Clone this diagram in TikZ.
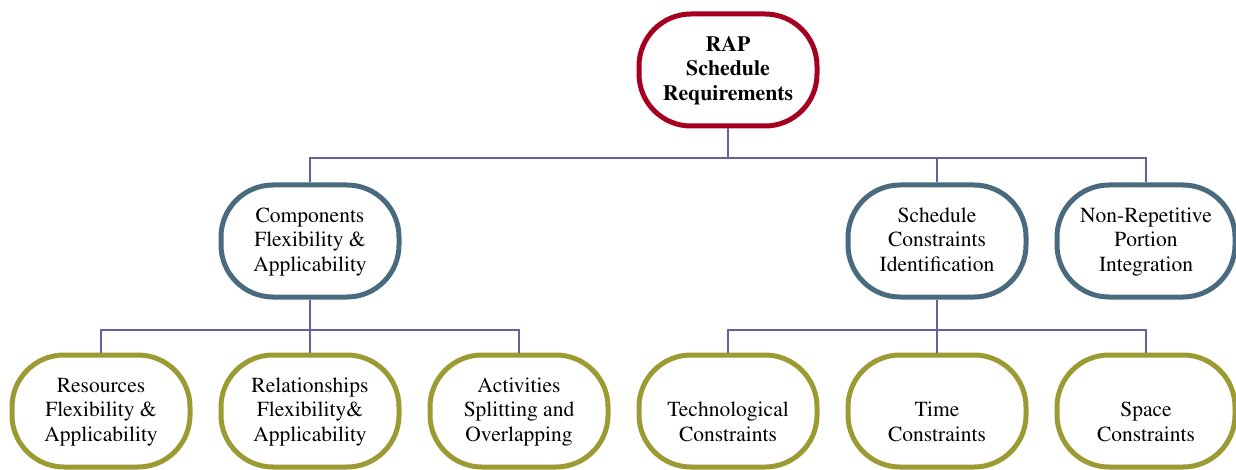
\documentclass[tikz,border=0pt]{standalone}
\usepackage[T1]{fontenc}
\usepackage{mathptmx}
\definecolor{rootred}{HTML}{A50021}
\definecolor{midblue}{HTML}{4A6A80}
\definecolor{leafolive}{HTML}{9C9A33}
\definecolor{linkpurple}{HTML}{6A5E9E}
% one text line of fixed height and depth
\newcommand{\boxline}[1]{\rule[-6.6pt]{0pt}{24.5pt}#1}
\begin{document}
\begin{tikzpicture}[x=1pt,y=-1pt,
  boxbase/.style={draw, line width=5pt, rounded corners=52pt, fill=white,
    minimum width=178pt, minimum height=112pt, inner sep=0pt,
    align=center, font=\fontsize{21.5}{24.5}\selectfont},
  rootbox/.style={boxbase, draw=rootred, font=\bfseries\fontsize{21.8}{24.5}\selectfont},
  midbox/.style={boxbase, draw=midblue},
  leafbox/.style={boxbase, draw=leafolive},
  link/.style={draw=linkpurple, line width=1.5pt}]
\useasboundingbox (0,0) rectangle (1236,470);

% root
\node[rootbox] (root) at (728,70) {\boxline{RAP}\\\boxline{Schedule}\\\boxline{Requirements}};

% second level
\node[midbox] (comp) at (310,241) {\boxline{Components}\\\boxline{Flexibility \&}\\\boxline{Applicability}};
\node[midbox] (cons) at (937,241) {\boxline{Schedule}\\\boxline{Constraints}\\\boxline{Identification}};
\node[midbox] (nonrep) at (1146,241) {\boxline{Non-Repetitive}\\\boxline{Portion}\\\boxline{Integration}};

% third level
\node[leafbox] (res) at (101,411) {\boxline{Resources}\\\boxline{Flexibility \&}\\\boxline{Applicability}};
\node[leafbox] (rel) at (310,411) {\boxline{Relationships}\\\boxline{Flexibility\&}\\\boxline{Applicability}};
\node[leafbox] (act) at (519,411) {\boxline{Activities}\\\boxline{Splitting and}\\\boxline{Overlapping}};
\node[leafbox] (tech) at (728,411) {\boxline{}\\\boxline{Technological}\\\boxline{Constraints}};
\node[leafbox] (time) at (937,411) {\boxline{}\\\boxline{Time}\\\boxline{Constraints}};
\node[leafbox] (space) at (1146,411) {\boxline{}\\\boxline{Space}\\\boxline{Constraints}};

% connectors
\coordinate (b1) at (728,158);
\coordinate (b2) at (310,330);
\coordinate (b3) at (937,330);

\draw[link] (root.south) -- (b1);
\draw[link] (b1) -| (comp.north);
\draw[link] (b1) -| (cons.north);
\draw[link] (b1) -| (nonrep.north);

\draw[link] (comp.south) -- (b2);
\draw[link] (b2) -| (res.north);
\draw[link] (b2) -| (rel.north);
\draw[link] (b2) -| (act.north);

\draw[link] (cons.south) -- (b3);
\draw[link] (b3) -| (tech.north);
\draw[link] (b3) -| (time.north);
\draw[link] (b3) -| (space.north);
\end{tikzpicture}
\end{document}
